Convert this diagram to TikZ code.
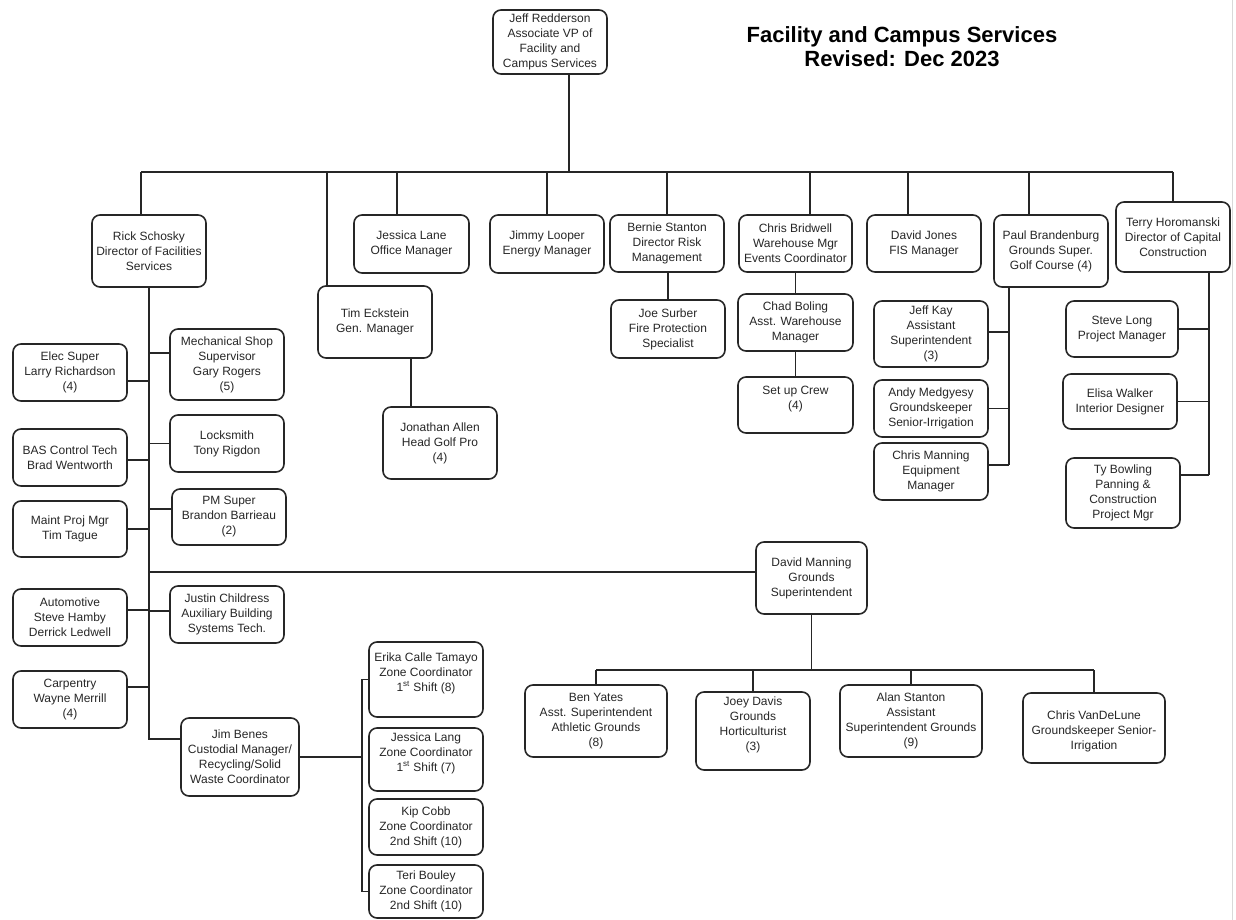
\documentclass[tikz,border=0pt]{standalone}
\usepackage{fontspec}
\setmainfont{Liberation Sans}

\begin{document}

\begin{tikzpicture}[x=0.75pt,y=-0.75pt,
    person/.style={draw=black!85,line width=1.2pt,rounded corners=6pt,align=center,inner sep=1pt,
        text=black!85,font=\fontsize{9}{11.25}\selectfont},
    sz/.style 2 args={minimum width=#1*0.75pt,minimum height=#2*0.75pt},
    wire/.style={draw=black!85,line width=1.2pt}]

\useasboundingbox (0,0) rectangle (1236,920);
\draw [black!15] (1232,0) -- (1232,920);

% title

\node (title) at (902,47) [font=\bfseries\fontsize{16.5}{18}\selectfont,align=center]
    {Facility and Campus Services\\Revised: Dec 2023};

\node (jeff) at (550,42) [person,sz={114}{64}] {Jeff Redderson\\Associate VP of\\Facility and\\Campus Services};

% first row

\node (rick) at (149,251) [person,sz={114}{72}] {Rick Schosky\\Director of Facilities\\Services};
\node (tim) at (375,322) [person,sz={114}{72}] {Tim Eckstein\\Gen. Manager};
\node (jlane) at (411.5,244) [person,sz={115}{58}] {Jessica Lane\\Office Manager};
\node (looper) at (547,244) [person,sz={114}{58}] {Jimmy Looper\\Energy Manager};
\node (bernie) at (667,243.5) [person,sz={114}{57}] {Bernie Stanton\\Director Risk\\Management};
\node (bridwell) at (795.5,243.5) [person,sz={113}{57}] {Chris Bridwell\\Warehouse Mgr\\Events Coordinator};
\node (djones) at (924,243.5) [person,sz={114}{57}] {David Jones\\FIS Manager};
\node (paul) at (1051,251) [person,sz={114}{72}] {Paul Brandenburg\\Grounds Super.\\Golf Course (4)};
\node (terry) at (1173,237) [person,sz={114}{70}] {Terry Horomanski\\Director of Capital\\Construction};

\coordinate (top-jeff) at (569,172);
\draw [wire] (top-jeff |- jeff.south) -- (top-jeff);

\foreach \n/\x in {rick/141,tim/327,jlane/397,looper/547,bernie/667,bridwell/810,djones/908,paul/1029,terry/1173}
{
    \coordinate (top-\n) at (\x,172);
    \draw [wire] (top-\n) -- (top-\n |- \n.north);
}
\draw [wire] (top-rick) -- (top-terry);

% facilities services

\node (elec) at (70,372.5) [person,sz={114}{57}] {Elec Super\\Larry Richardson\\(4)};
\node (mech) at (227,364.5) [person,sz={114}{71}] {Mechanical Shop\\Supervisor\\Gary Rogers\\(5)};
\node (bas) at (70,457.5) [person,sz={114}{57}] {BAS Control Tech\\Brad Wentworth};
\node (lock) at (227,443.5) [person,sz={114}{57}] {Locksmith\\Tony Rigdon};
\node (maint) at (70,529) [person,sz={114}{56}] {Maint Proj Mgr\\Tim Tague};
\node (pm) at (229,517) [person,sz={114}{56}] {PM Super\\Brandon Barrieau\\(2)};
\node (auto) at (70,617.5) [person,sz={114}{57}] {Automotive\\Steve Hamby\\Derrick Ledwell};
\node (justin) at (227,614.5) [person,sz={114}{57}] {Justin Childress\\Auxiliary Building\\Systems Tech.};
\node (carp) at (70,699.5) [person,sz={114}{57}] {Carpentry\\Wayne Merrill\\(4)};
\node (jbenes) at (240,757) [person,sz={118}{78}] {Jim Benes\\Custodial Manager/\\Recycling/Solid\\Waste Coordinator};

\draw [wire] (rick.south) |- ([yshift=13.5pt]jbenes.west);

\foreach \n/\dy in {elec/-6.4pt,bas/-1.9pt,maint/0pt,auto/5.6pt,carp/9.4pt}
    \draw [wire] ([yshift=\dy]\n.east) -- ([yshift=\dy]\n.east -| rick.south);
\foreach \n/\dy in {mech/8.6pt,lock/0pt,pm/6pt,justin/2.6pt}
    \draw [wire] ([yshift=\dy]\n.west) -- ([yshift=\dy]\n.west -| rick.south);

% custodial

\node (erika) at (426,679.5) [person,sz={114}{75}] {Erika Calle Tamayo\\Zone Coordinator\\1\textsuperscript{st} Shift (8)\\\mbox{}};
\node (jlang) at (426,759.5) [person,sz={114}{63}] {Jessica Lang\\Zone Coordinator\\1\textsuperscript{st} Shift (7)\\\mbox{}};
\node (kip) at (426,827) [person,sz={114}{56}] {Kip Cobb\\Zone Coordinator\\2nd Shift (10)};
\node (teri) at (426,891.5) [person,sz={114}{53}] {Teri Bouley\\Zone Coordinator\\2nd Shift (10)};

\coordinate (zj) at (362,756);
\draw [wire] (jbenes.east) -- (jbenes.east -| zj);
\draw [wire] (erika.west) -| (zj) |- (teri.west);

% grounds

\node (dmanning) at (811.5,578) [person,sz={111}{72}] {David Manning\\Grounds\\Superintendent};
\draw [wire] ([yshift=4.5pt]dmanning.west) -- ([yshift=4.5pt]dmanning.west -| rick.south);

\node (ben) at (596,721) [person,sz={142}{72}] {Ben Yates\\Asst. Superintendent\\Athletic Grounds\\(8)};
\node (joey) at (753,731) [person,sz={114}{78}] {Joey Davis\\Grounds\\Horticulturist\\(3)\\\mbox{}};
\node (alan) at (911,721) [person,sz={142}{72}] {Alan Stanton\\Assistant\\Superintendent Grounds\\(9)};
\node (vdl) at (1094,728) [person,sz={142}{70}] {\mbox{}\\Chris VanDeLune\\Groundskeeper Senior-\\Irrigation};

\coordinate (gbar) at (811.5,670);
\draw [wire] (dmanning.south) -- (gbar);
\draw [wire] (gbar -| ben.north) -- (gbar -| vdl.north);
\foreach \n in {ben,joey,alan,vdl}
    \draw [wire] (gbar -| \n.north) -- (\n.north);

% golf, risk and warehouse

\node (jallen) at (440,443) [person,sz={114}{72}] {Jonathan Allen\\Head Golf Pro\\(4)};
\coordinate (tij) at (411,407);
\draw [wire] (tij |- tim.south) -- (tij |- jallen.north);

\node (joe) at (668,329) [person,sz={114}{58}] {Joe Surber\\Fire Protection\\Specialist};
\draw [wire] (joe.north |- bernie.south) -- (joe.north);

\node (chad) at (795.5,322.5) [person,sz={115}{57}] {Chad Boling\\Asst. Warehouse\\Manager};
\node (setup) at (795.5,405) [person,sz={115}{56}] {Set up Crew\\(4)\\\mbox{}};
\draw [wire] (bridwell.south) -- (chad.north);
\draw [wire] (chad.south) -- (setup.north);

% golf course grounds

\node (jkay) at (931,334) [person,sz={114}{66}] {Jeff Kay\\Assistant\\Superintendent\\(3)};
\node (andy) at (931,408.5) [person,sz={114}{57}] {Andy Medgyesy\\Groundskeeper\\Senior-Irrigation};
\node (cmanning) at (931,471.5) [person,sz={114}{57}] {Chris Manning\\Equipment\\Manager};

\coordinate (pj) at (1009,465);
\draw [wire] (pj |- paul.south) -- (pj);
\foreach \n/\dy in {jkay/1.5pt,andy/0pt,cmanning/4.9pt}
    \draw [wire] ([yshift=\dy]\n.east) -- ([yshift=\dy]\n.east -| pj);

% capital construction

\node (slong) at (1122,329) [person,sz={112}{56}] {Steve Long\\Project Manager};
\node (ewalker) at (1120,401.5) [person,sz={114}{55}] {Elisa Walker\\Interior Designer};
\node (tbowling) at (1123,493) [person,sz={114}{70}] {Ty Bowling\\Panning \&\\Construction\\Project Mgr};

\coordinate (tj) at (1209,475);
\draw [wire] (tj |- terry.south) -- (tj);
\foreach \n/\dy in {slong/0pt,ewalker/0pt,tbowling/13.5pt}
    \draw [wire] ([yshift=\dy]\n.east) -- ([yshift=\dy]\n.east -| tj);

\end{tikzpicture}

\end{document}
